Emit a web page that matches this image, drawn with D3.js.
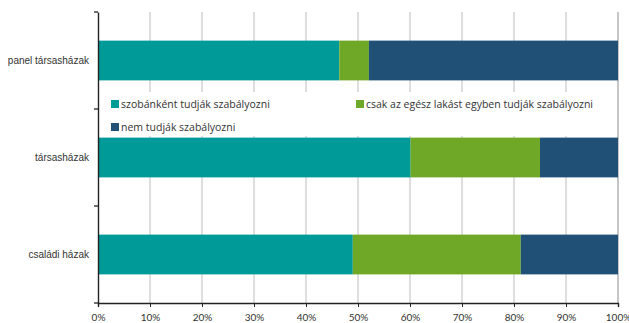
<!DOCTYPE html>
<html lang="hu">
<head>
<meta charset="utf-8">
<title>Fűtés szabályozhatósága</title>
<script src="https://cdn.jsdelivr.net/npm/d3@7"></script>
<style>
  body { margin: 0; background: #fff; }
  svg { display: block; font-family: "Open Sans", "DejaVu Sans", sans-serif; }
</style>
</head>
<body>
<div id="chart"></div>
<script>
// data
var categories = ["panel társasházak", "társasházak", "családi házak"];
var seriesNames = ["szobánként tudják szabályozni", "csak az egész lakást egyben tudják szabályozni", "nem tudják szabályozni"];
var seriesColors = ["#009a98", "#6fa827", "#205076"];
var room = [46.4, 60.1, 49.0];
var whole = [5.7, 24.9, 32.3];
var none = [47.9, 15.0, 18.7];
var xTicks = [0, 10, 20, 30, 40, 50, 60, 70, 80, 90, 100];

var W = 629, H = 323;
var margin = {top: 12, right: 11, bottom: 20, left: 98};
var width = W - margin.left - margin.right,
    height = H - margin.top - margin.bottom;

var svg = d3.select("#chart").append("svg")
  .attr("width", W).attr("height", H);
var g = svg.append("g").attr("transform", "translate(" + margin.left + "," + margin.top + ")");

var x = d3.scaleLinear().domain([0, 100]).range([0, width]);
var y = d3.scaleBand().domain(categories).range([0, height]).paddingInner(0.59).paddingOuter(0.295);
var yOuter = d3.scaleBand().domain(categories).range([0, height]);

// grid
g.append("g").selectAll("line").data(xTicks.slice(1)).join("line")
  .attr("x1", d => x(d)).attr("x2", d => x(d))
  .attr("y1", 0).attr("y2", height)
  .attr("stroke", d => d === 100 ? "#a8a8a8" : "#cccccc")
  .attr("stroke-width", 1.3);

// stacked bars
var rows = categories.map((c, i) => ({cat: c, room: room[i], whole: whole[i], none: none[i]}));
var stack = d3.stack().keys(["room", "whole", "none"])(rows);
g.append("g").selectAll("g").data(stack).join("g")
  .attr("fill", (d, i) => seriesColors[i])
  .selectAll("rect").data(d => d).join("rect")
  .attr("x", d => x(d[0]))
  .attr("width", d => x(d[1]) - x(d[0]))
  .attr("y", d => y(d.data.cat))
  .attr("height", y.bandwidth());

// legend box
var leg = g.append("g");
leg.append("rect").attr("x", 1).attr("y", 80).attr("width", width - 2).attr("height", 44).attr("fill", "#fff");
var legPos = [[13, 92], [258, 92], [13, 115]];
seriesNames.forEach(function (name, i) {
  var p = legPos[i];
  leg.append("rect").attr("x", p[0]).attr("y", p[1] - 4).attr("width", 8).attr("height", 8).attr("fill", seriesColors[i]);
  leg.append("text").attr("x", p[0] + 10).attr("y", p[1]).attr("dy", "0.35em")
    .attr("font-size", 10.5).attr("fill", "#333").text(name);
});

// axes
var xAxis = g.append("g").attr("transform", "translate(0," + height + ")")
  .call(d3.axisBottom(x).tickValues(xTicks).tickFormat(d => d + "%").tickSize(4).tickPadding(7));
xAxis.select(".domain").attr("stroke", "#222").attr("stroke-width", 1.4);
xAxis.selectAll(".tick line").attr("stroke", "#222");
xAxis.selectAll("text").attr("font-size", 10).attr("fill", "#333").attr("font-family", "Lato, sans-serif");

var yAxis = g.append("g")
  .call(d3.axisLeft(yOuter).tickSize(0).tickPadding(9));
yAxis.select(".domain").attr("stroke", "#222").attr("stroke-width", 1.4);
yAxis.selectAll("text").attr("font-size", 10).attr("fill", "#333");
// band boundary ticks
g.append("g").selectAll("line").data([0].concat(categories.map(c => yOuter(c) + yOuter.bandwidth()))).join("line")
  .attr("x1", -4).attr("x2", 0).attr("y1", d => d).attr("y2", d => d)
  .attr("stroke", "#222").attr("stroke-width", 1.3);
</script>
</body>
</html>
